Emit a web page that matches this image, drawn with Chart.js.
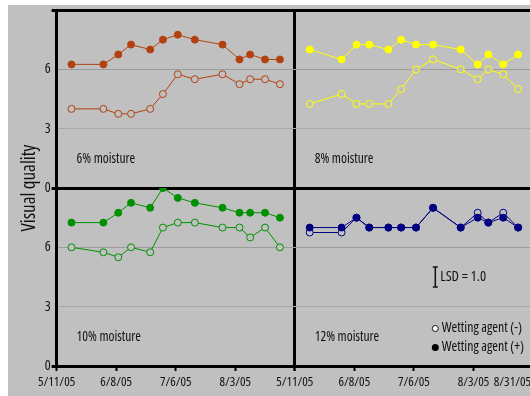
<!DOCTYPE html>
<html>
<head>
<meta charset="utf-8">
<script src="https://cdn.jsdelivr.net/npm/chart.js@4.4.1/dist/chart.umd.min.js"></script>
<style>
  html, body { margin: 0; padding: 0; background: #ffffff; overflow: hidden; width: 530px; height: 396px; }
  #wrap { position: absolute; left: 8px; top: 5px; width: 540px; height: 391px; background: #c0c0c0; }
  canvas { display: block; }
</style>
</head>
<body>
<div id="wrap"><canvas id="c" width="540" height="391" style="width:540px;height:391px"></canvas></div>
<script>
// Sampling dates (shared by all four moisture levels)
const sampleDates = ['5/18/05','6/2/05','6/9/05','6/15/05','6/24/05','6/30/05','7/7/05','7/15/05','7/28/05','8/5/05','8/10/05','8/17/05','8/24/05'];

// Visual quality ratings, without (-) and with (+) wetting agent
const m6Without  = [4.0, 4.0, 3.75, 3.75, 4.0, 4.75, 5.75, 5.5, 5.75, 5.25, 5.5, 5.5, 5.25];
const m6With     = [6.25, 6.25, 6.75, 7.25, 7.0, 7.5, 7.75, 7.5, 7.25, 6.5, 6.75, 6.5, 6.5];
const m8Without  = [4.25, 4.75, 4.25, 4.25, 4.25, 5.0, 6.0, 6.5, 6.0, 5.5, 6.0, 5.75, 5.0];
const m8With     = [7.0, 6.5, 7.25, 7.25, 7.0, 7.5, 7.25, 7.25, 7.0, 6.25, 6.75, 6.25, 6.75];
const m10Without = [6.0, 5.75, 5.5, 6.0, 5.75, 7.0, 7.25, 7.25, 7.0, 7.0, 6.5, 7.0, 6.0];
const m10With    = [7.25, 7.25, 7.75, 8.25, 8.0, 9.0, 8.5, 8.25, 8.0, 7.75, 7.75, 7.75, 7.5];
const m12Without = [6.75, 6.75, 7.5, 7.0, 7.0, 7.0, 7.0, 8.0, 7.0, 7.75, 7.25, 7.75, 7.0];
const m12With    = [7.0, 7.0, 7.5, 7.0, 7.0, 7.0, 7.0, 8.0, 7.0, 7.5, 7.25, 7.5, 7.0];

// Axis ticks
const xTickLabels = ['5/11/05','6/8/05','7/6/05','8/3/05','8/31/05'];
const yTickValues = [0, 3, 6];
const yMax = 9;

const panelNames = ['6% moisture', '8% moisture', '10% moisture', '12% moisture'];
const lsdValue = 1.0;

// Condensed face of Open Sans (width axis)
const FONT = '"Open Sans", sans-serif';
const STRETCH = 'condensed';
const BG = '#c0c0c0';

const START = Date.UTC(2005, 4, 11);
function dayOf(s) {
  const [m, d, y] = s.split('/').map(Number);
  return Math.round((Date.UTC(2000 + y, m - 1, d) - START) / 86400000);
}
const xTickDays = xTickLabels.map(dayOf);
const xEnd = xTickDays[xTickDays.length - 1];
function xLabel(v) {
  const i = xTickDays.indexOf(v);
  return i < 0 ? '' : xTickLabels[i];
}

const panels = [
  { name: panelNames[0], x: 'xL', y: 'yTop', color: '#b3410f', without: m6Without,  with: m6With },
  { name: panelNames[1], x: 'xR', y: 'yTop', color: '#ffff00', without: m8Without,  with: m8With },
  { name: panelNames[2], x: 'xL', y: 'yBot', color: '#009000', without: m10Without, with: m10With },
  { name: panelNames[3], x: 'xR', y: 'yBot', color: '#000080', without: m12Without, with: m12With }
];

const datasets = [];
panels.forEach(p => {
  [['without', false], ['with', true]].forEach(([key, filled]) => {
    datasets.push({
      label: p.name + (filled ? ' (+)' : ' (-)'),
      data: sampleDates.map((d, i) => ({ x: dayOf(d), y: p[key][i] })),
      xAxisID: p.x,
      yAxisID: p.y,
      borderColor: p.color,
      borderWidth: 1,
      pointRadius: 3.5,
      pointBorderWidth: 1,
      pointBorderColor: p.color,
      pointBackgroundColor: filled ? p.color : BG,
      tension: 0,
      fill: false,
      order: filled ? 1 : 2
    });
  });
});

function noPad(s) { s.paddingTop = 0; s.paddingBottom = 0; s.paddingLeft = 0; s.paddingRight = 0; }

function xScale(hideEnd) {
  return {
    type: 'linear',
    position: 'bottom',
    stack: 'h',
    stackWeight: 1,
    min: 0,
    max: xEnd,
    afterBuildTicks: s => { s.ticks = xTickDays.map(v => ({ value: v })); },
    afterFit: s => { s.height = 30; noPad(s); },
    grid: {
      drawOnChartArea: true,
      color: c => (hideEnd && c.tick && c.tick.value === xEnd) ? '#000000' : 'rgba(0,0,0,0)',
      lineWidth: c => (hideEnd && c.tick && c.tick.value === xEnd) ? 3 : 1,
      tickColor: '#000000',
      tickLength: 5,
      tickWidth: 2
    },
    border: { display: true, color: '#000000', width: 3 },
    ticks: {
      autoSkip: false,
      maxRotation: 0,
      padding: 3,
      color: '#111111',
      font: { family: FONT, weight: STRETCH, size: 13 },
      callback: v => (hideEnd && v === xEnd) ? '' : xLabel(v)
    }
  };
}

function yScale(withTop) {
  const isEdge = v => v === 0 || (withTop && v === yMax);
  return {
    type: 'linear',
    position: 'left',
    stack: 'v',
    stackWeight: 1,
    min: 0,
    max: yMax,
    afterBuildTicks: s => {
      const vals = withTop ? yTickValues.concat([yMax]) : yTickValues.slice();
      s.ticks = vals.map(v => ({ value: v }));
    },
    afterFit: s => { s.width = 15.2; noPad(s); },
    grid: {
      drawOnChartArea: true,
      color: c => {
        const v = c.tick ? c.tick.value : null;
        if (v === 0) return withTop ? '#000000' : 'rgba(0,0,0,0)';
        if (v === yMax) return '#000000';
        return v === 6 ? '#9c9c9c' : '#a8a8a8';
      },
      lineWidth: c => (c.tick && isEdge(c.tick.value)) ? 3 : 1,
      tickColor: c => (c.tick && isEdge(c.tick.value)) ? '#000000' : 'rgba(0,0,0,0)',
      tickWidth: 3,
      tickLength: 5
    },
    border: { display: true, color: '#000000', width: 3 },
    ticks: {
      padding: 1,
      color: '#111111',
      font: { family: FONT, weight: STRETCH, size: 14 },
      callback: v => yTickValues.includes(v) ? String(v) : ''
    }
  };
}

// Last date label on the right-hand axis is kept inside the frame
const edgeLabel = {
  id: 'edgeLabel',
  beforeDraw(chart) {
    const s = chart.scales.xR;
    const items = s.getLabelItems(chart.chartArea);
    const last = items[items.length - 1];
    if (last) {
      last.options.textAlign = 'right';
      last.options.translation = [last.options.translation[0] - 2, last.options.translation[1]];
    }
  }
};

// Panel captions, LSD bar and marker key
const notes = {
  id: 'notes',
  afterDraw(chart) {
    const ctx = chart.ctx;
    const sc = chart.scales;
    ctx.save();
    ctx.fillStyle = '#111111';
    ctx.font = STRETCH + ' 13.5px ' + FONT;
    ctx.textAlign = 'left';
    ctx.textBaseline = 'middle';
    panels.forEach(p => {
      ctx.fillText(p.name, sc[p.x].left + 20, sc[p.y].bottom - 29);
    });

    // LSD bar on the lower-right panel
    const lx = sc.xR.left + 140.5;
    const y0 = sc.yBot.getPixelForValue(4);
    const y1 = sc.yBot.getPixelForValue(4 + lsdValue);
    ctx.strokeStyle = '#111111';
    ctx.lineWidth = 1.5;
    ctx.beginPath();
    ctx.moveTo(lx, y0); ctx.lineTo(lx, y1);
    ctx.moveTo(lx - 2.5, y0); ctx.lineTo(lx + 2.5, y0);
    ctx.moveTo(lx - 2.5, y1); ctx.lineTo(lx + 2.5, y1);
    ctx.stroke();
    ctx.font = STRETCH + ' 14.5px ' + FONT;
    ctx.fillText('LSD = ' + lsdValue.toFixed(1), lx + 5, (y0 + y1) / 2);

    // Marker key
    ctx.font = STRETCH + ' 13.8px ' + FONT;
    const kx = lx;
    const ka = sc.yBot.bottom - 37.5;
    const kb = sc.yBot.bottom - 18.5;
    ctx.lineWidth = 1;
    ctx.fillStyle = '#ffffff';
    ctx.beginPath(); ctx.arc(kx, ka, 3, 0, Math.PI * 2); ctx.fill(); ctx.stroke();
    ctx.fillStyle = '#000000';
    ctx.beginPath(); ctx.arc(kx, kb, 3.5, 0, Math.PI * 2); ctx.fill();
    ctx.fillStyle = '#111111';
    ctx.fillText('Wetting agent (-)', kx + 6.5, ka);
    ctx.fillText('Wetting agent (+)', kx + 6.5, kb);
    ctx.restore();
  }
};

new Chart(document.getElementById('c'), {
  type: 'line',
  data: { datasets },
  options: {
    responsive: false,
    animation: false,
    events: [],
    layout: { padding: { top: 3, left: 0, right: 15, bottom: 0 } },
    scales: {
      xL: xScale(true),
      xR: xScale(false),
      yBot: yScale(false),
      yTop: yScale(true)
    },
    plugins: {
      legend: { display: false },
      tooltip: { enabled: false },
      title: {
        display: true,
        position: 'left',
        fullSize: false,
        text: 'Visual quality',
        color: '#111111',
        font: { family: FONT, size: 19, weight: STRETCH, lineHeight: 1.2 },
        padding: { top: 10.6, bottom: 0 }
      }
    }
  },
  plugins: [edgeLabel, notes]
});
</script>
</body>
</html>
